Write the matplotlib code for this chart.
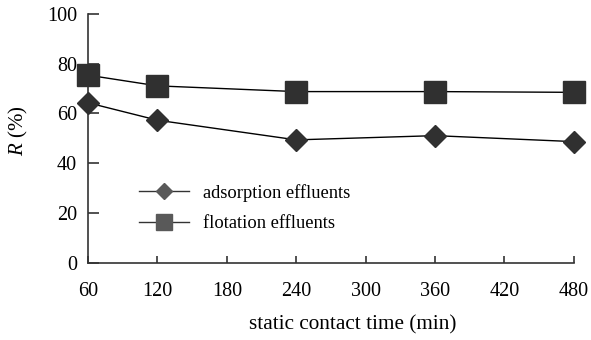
import numpy as np
import matplotlib
matplotlib.use("Agg")
from matplotlib import pyplot as plt

plt.rcParams['font.family'] = ['Liberation Serif', 'DejaVu Serif']
plt.rcParams['mathtext.fontset'] = 'custom'
plt.rcParams['mathtext.rm'] = 'Liberation Serif'
plt.rcParams['mathtext.it'] = 'Liberation Serif:italic'

# static contact time (min)
times = [60, 120, 240, 360, 480]
# R (%)
adsorption = [64.3, 57.3, 49.4, 51.1, 48.7]
flotation = [75.4, 71.1, 68.8, 68.8, 68.5]

x_ticks = [60, 120, 180, 240, 300, 360, 420, 480]
y_ticks = [0, 20, 40, 60, 80, 100]

fig = plt.figure(figsize=(5.91, 3.40), dpi=100)
ax = fig.add_axes([0.149, 0.227, 0.822, 0.732])

mc = "#303030"
l1, = ax.plot(times, adsorption, color="black", lw=1.0, marker="D", ms=11,
              mfc=mc, mec=mc, label="adsorption effluents", clip_on=False, zorder=3)
l2, = ax.plot(times, flotation, color="black", lw=1.0, marker="s", ms=16,
              mfc=mc, mec=mc, label="flotation effluents", clip_on=False, zorder=3)

ax.set_xlim(60, 480)
ax.set_ylim(0, 100)
ax.set_xticks(x_ticks)
ax.set_yticks(y_ticks)
for side in ["top", "right"]:
    ax.spines[side].set_visible(False)
for side in ["left", "bottom"]:
    ax.spines[side].set_color("#333333")
    ax.spines[side].set_linewidth(1.2)
ax.tick_params(axis="y", direction="in", length=8, width=1.2, color="#333333",
               pad=8, labelsize=14.5)
ax.tick_params(axis="x", direction="in", length=5, width=1.2, color="#333333",
               pad=14, labelsize=14.5)

ax.set_xlabel("static contact time (min)", fontsize=15.3)
ax.xaxis.set_label_coords(0.544, -0.21)
ax.set_ylabel("$R$ (%)", fontsize=15)
ax.yaxis.set_label_coords(-0.12, 0.53)

leg = ax.legend(loc="upper left", bbox_to_anchor=(0.07, 0.385), frameon=False,
                fontsize=13.3, handlelength=2.7, markerscale=0.75, labelspacing=0.75,
                handletextpad=0.8)
for h in leg.legend_handles:
    h.set_markerfacecolor("#595959")
    h.set_markeredgecolor("#595959")
    h.set_color("#333333")

fig.savefig("out.png", dpi=100)
